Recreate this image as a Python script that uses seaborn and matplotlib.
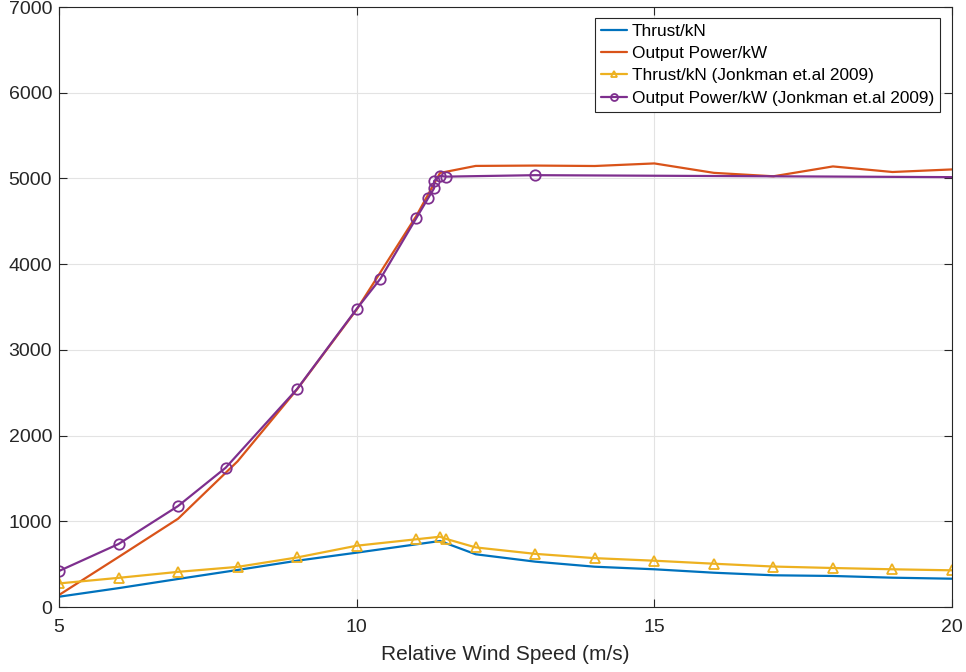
import matplotlib
matplotlib.use("Agg")
import matplotlib.pyplot as plt
import seaborn as sns
import numpy as np

sns.set_theme(style="whitegrid")
plt.rcParams['font.family'] = ['Liberation Sans', 'DejaVu Sans']

# Data
thrust_x = [5, 6, 7, 8, 9, 10, 11, 11.4, 12, 13, 14, 15, 16, 17, 18, 19, 20]
thrust_y = [120, 220, 327, 432, 540, 634, 731, 770, 615, 529, 470, 440, 400, 370, 362, 342, 330]

power_x = [5, 6, 7, 8, 9, 10, 11, 11.4, 12, 13, 14, 15, 16, 17, 18, 19, 20]
power_y = [140, 583, 1030, 1700, 2540, 3470, 4560, 5064, 5146, 5150, 5145, 5175, 5065, 5025, 5140, 5075, 5105]

jk_thrust_x = [5, 6, 7, 8, 9, 10, 11, 11.4, 11.5, 12, 13, 14, 15, 16, 17, 18, 19, 20]
jk_thrust_y = [275, 340, 410, 468, 578, 715, 790, 820, 795, 695, 620, 570, 540, 505, 472, 455, 440, 428]

jk_power_x = [5, 6, 7, 7.8, 9, 10, 10.4, 11, 11.2, 11.3, 11.3, 11.4, 11.5, 13, 20]
jk_power_y = [420, 735, 1178, 1625, 2544, 3478, 3831, 4535, 4769, 4885, 4970, 5030, 5021, 5038, 5015]

labels = ["Thrust/kN", "Output Power/kW",
          "Thrust/kN (Jonkman et.al 2009)", "Output Power/kW (Jonkman et.al 2009)"]
colors = ["#0072BD", "#D95319", "#EDB120", "#7E2F8E"]

fig = plt.figure(figsize=(9.66, 6.72), dpi=100)
ax = fig.add_axes([59/966, 1 - 607/672, (952-59)/966, (607-7)/672])

lw = 1.6
sns.lineplot(x=thrust_x, y=thrust_y, ax=ax, color=colors[0], lw=lw, label=labels[0],
             sort=False, estimator=None)
sns.lineplot(x=power_x, y=power_y, ax=ax, color=colors[1], lw=lw, label=labels[1],
             sort=False, estimator=None)
sns.lineplot(x=jk_thrust_x, y=jk_thrust_y, ax=ax, color=colors[2], lw=lw, label=labels[2],
             sort=False, estimator=None, marker='^', markersize=7.5,
             markerfacecolor='none', markeredgecolor=colors[2], markeredgewidth=1.3)
sns.lineplot(x=jk_power_x, y=jk_power_y, ax=ax, color=colors[3], lw=lw, label=labels[3],
             sort=False, estimator=None, marker='o', markersize=7.5,
             markerfacecolor='none', markeredgecolor=colors[3], markeredgewidth=1.3,
             markevery=list(range(len(jk_power_x) - 1)))

ax.set_xlim(5, 20)
ax.set_ylim(0, 7000)
ax.set_xticks([5, 10, 15, 20])
ax.set_yticks(np.arange(0, 7001, 1000))
ax.set_xlabel("Relative Wind Speed (m/s)", fontsize=15, color='#262626', labelpad=6)
ax.set_ylabel("")
ax.set_facecolor('white')
ax.grid(True, color='#e3e3e3', linewidth=0.8)
for s in ax.spines.values():
    s.set_visible(True)
    s.set_color('#262626')
    s.set_linewidth(0.8)
ax.tick_params(axis='both', which='both', direction='in', length=6, width=0.8,
               top=True, right=True, bottom=True, left=True,
               labelsize=14, colors='#262626', pad=5)
ax.tick_params(axis='x', pad=9)

leg = ax.legend(loc='upper right', bbox_to_anchor=(0.987, 0.982), fontsize=12.4,
                frameon=True, fancybox=False, edgecolor='#262626', framealpha=1,
                handlelength=1.5, handletextpad=0.3, borderpad=0.35, labelspacing=0.42,
                borderaxespad=0)
leg.get_frame().set_linewidth(0.8)
for h in leg.get_lines():
    h.set_markersize(5)
for t in leg.get_texts():
    t.set_color('black')

fig.savefig("out.png", dpi=100, facecolor='white')
